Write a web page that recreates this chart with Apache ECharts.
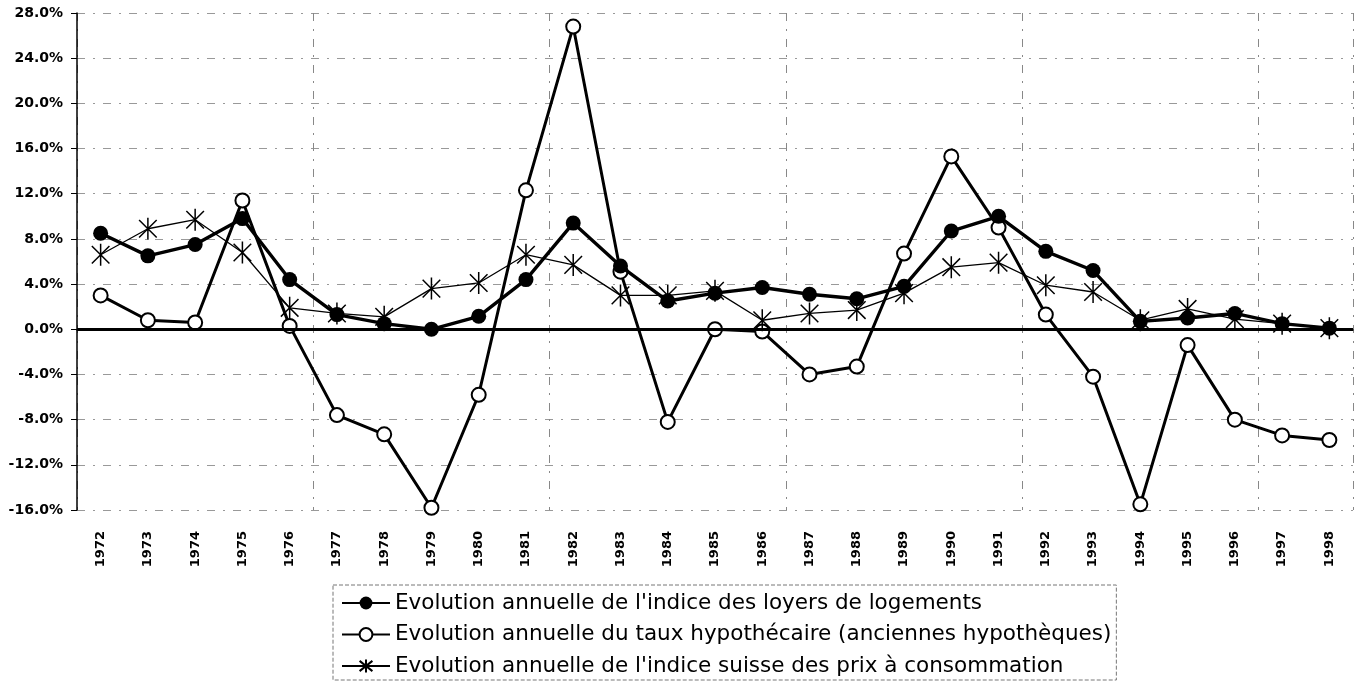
<!DOCTYPE html>
<html><head><meta charset="utf-8">
<script src="https://cdn.jsdelivr.net/npm/echarts@6/dist/echarts.min.js"></script>
<style>html,body{margin:0;padding:0;background:#fff}#c{width:1355px;height:683px}</style>
</head><body><div id="c"></div>
<script>
var years = ['1972','1973','1974','1975','1976','1977','1978','1979','1980','1981','1982','1983','1984','1985','1986','1987','1988','1989','1990','1991','1992','1993','1994','1995','1996','1997','1998'];
var loyers = [8.5,6.5,7.5,9.8,4.4,1.3,0.5,0.0,1.15,4.4,9.4,5.6,2.5,3.2,3.7,3.1,2.7,3.8,8.7,10.0,6.9,5.2,0.7,1.0,1.4,0.5,0.1];
var hypo = [3.0,0.8,0.6,11.4,0.3,-7.6,-9.3,-15.8,-5.8,12.3,26.8,5.1,-8.2,0.0,-0.2,-4.0,-3.3,6.7,15.3,9.0,1.3,-4.2,-15.5,-1.4,-8.0,-9.4,-9.8];
var ipc = [6.6,8.9,9.7,6.8,1.9,1.4,1.1,3.6,4.1,6.6,5.7,3.0,3.0,3.4,0.8,1.4,1.7,3.2,5.5,5.9,3.9,3.3,0.8,1.8,0.9,0.5,0.1];
var yTicks = {min:-16, max:28, interval:4};
var names = ["Evolution annuelle de l'indice des loyers de logements",
             "Evolution annuelle du taux hypothécaire (anciennes hypothèques)",
             "Evolution annuelle de l'indice suisse des prix à consommation"];
var FONT = '"DejaVu Sans", sans-serif';
var chart = echarts.init(document.getElementById('c'), null, {renderer:'canvas'});
var starPath = 'path://M0,-10L0,10M-8,-8L8,8M-8,8L8,-8';
chart.setOption({
  animation:false,
  backgroundColor:'#fff',
  textStyle:{fontFamily:FONT},
  grid:{left:77, right:2, top:13, bottom:173, containLabel:false, show:false},
  xAxis:{type:'category', data:years, boundaryGap:true,
    axisLine:{show:true, lineStyle:{color:'#000', width:1.5}},
    axisTick:{show:false},
    axisLabel:{rotate:90, color:'#000', fontSize:13, fontWeight:'bold', fontFamily:FONT, margin:21},
    splitLine:{show:true, interval:4, lineStyle:{color:'#888', width:1, type:[8,8,2,8]}}
  },
  yAxis:{type:'value', min:yTicks.min, max:yTicks.max, interval:yTicks.interval,
    axisLine:{show:true, lineStyle:{color:'#000', width:1.5}},
    axisTick:{show:true, length:6, lineStyle:{color:'#000'}},
    axisLabel:{color:'#000', fontSize:14, fontWeight:'bold', fontFamily:FONT, margin:14,
      formatter:function(v){return v.toFixed(1)+'%';}},
    splitLine:{show:true, lineStyle:{color:'#999', width:1, type:[8,8,2,8]}}
  },
  legend:{
    orient:'vertical', left:333, top:585, itemGap:9.5,
    itemWidth:48, itemHeight:16,
    textStyle:{fontSize:21.5, lineHeight:22, color:'#000', fontFamily:FONT},
    borderColor:'#777', borderWidth:1, borderType:'dashed', padding:[7,5,3,8],
    data:names
  },
  series:[
    {name:names[0], type:'line', data:loyers, symbol:'circle', symbolSize:15,
     itemStyle:{color:'#000'}, lineStyle:{color:'#000', width:3.4}, z:4,
     markLine:{silent:true, symbol:'none', label:{show:false},
       lineStyle:{color:'#000', width:3, type:'solid'}, data:[{yAxis:0}]}},
    {name:names[1], type:'line', data:hypo, symbol:'emptyCircle', symbolSize:14,
     itemStyle:{color:'#000', borderWidth:1.6}, lineStyle:{color:'#000', width:3}, z:3},
    {name:names[2], type:'line', data:ipc, symbol:starPath, symbolSize:22, symbolKeepAspect:true,
     itemStyle:{color:'#000', borderColor:'#000', borderWidth:1.5}, lineStyle:{color:'#000', width:1.3}, z:5}
  ]
});
</script></body></html>
